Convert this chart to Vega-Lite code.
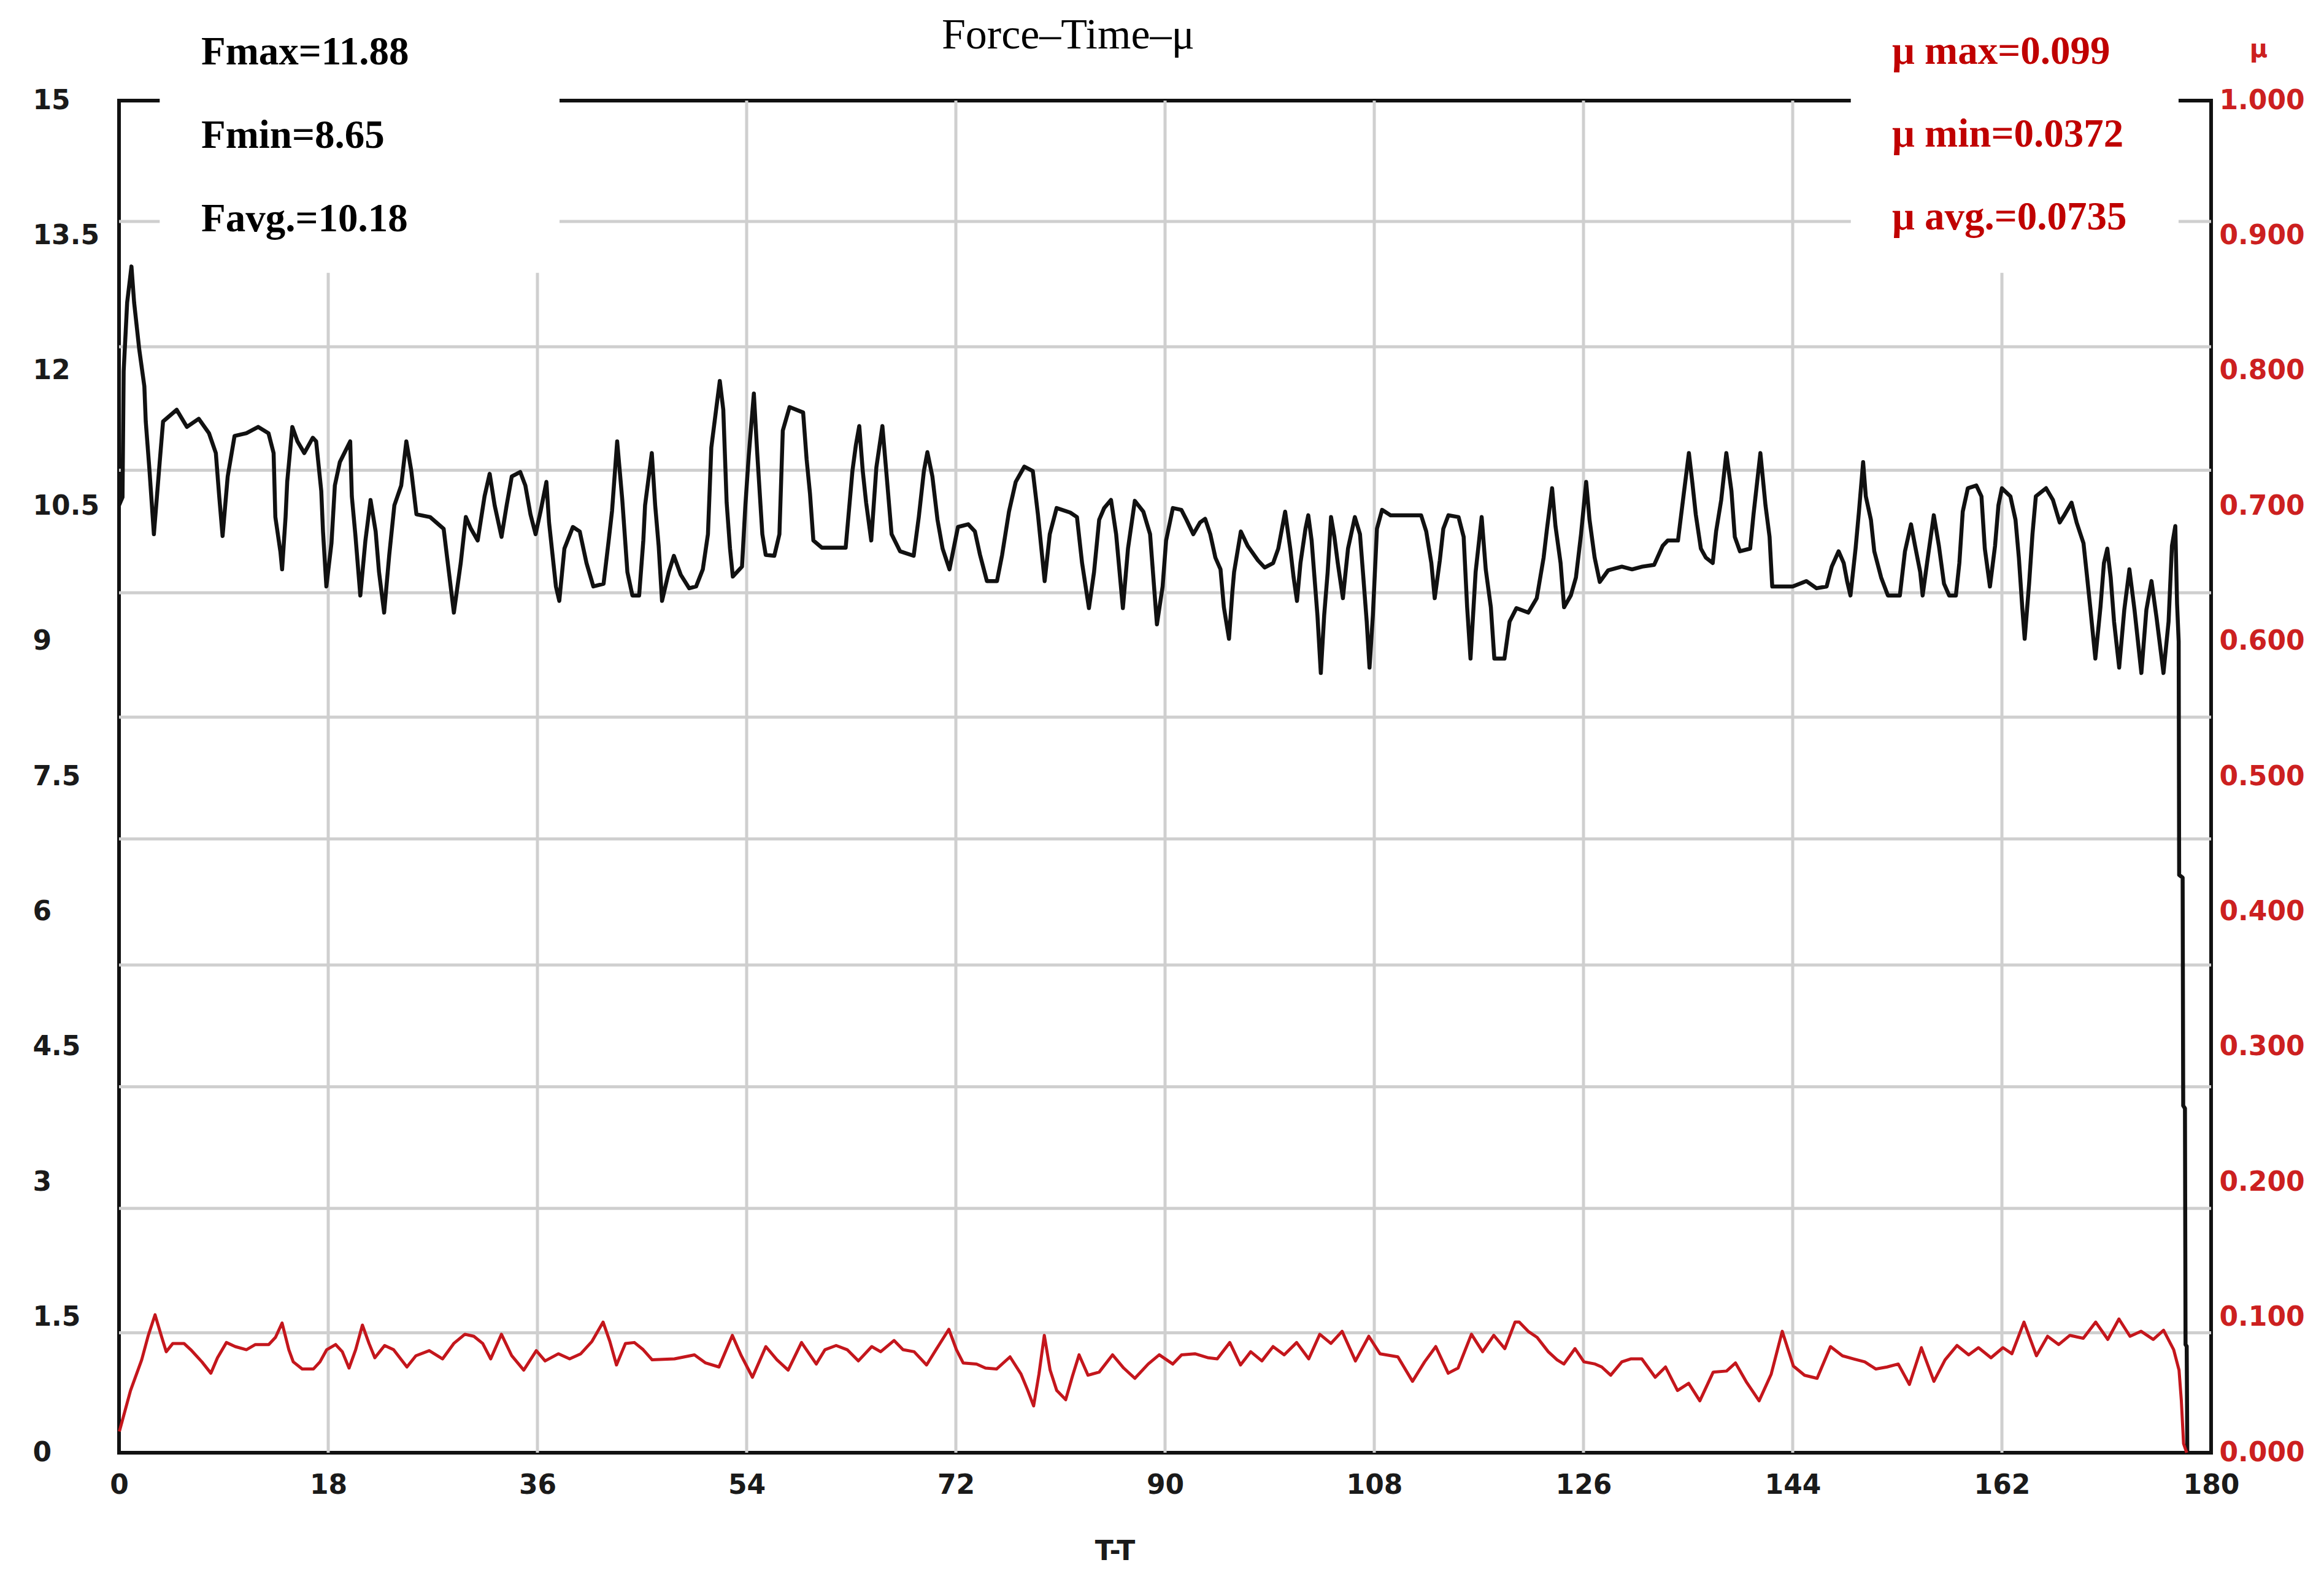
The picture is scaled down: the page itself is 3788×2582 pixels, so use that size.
{
  "$schema": "https://vega.github.io/schema/vega-lite/v6.json",
  "width": 3410,
  "height": 2204,
  "autosize": {"type": "none"},
  "padding": {"left": 194, "top": 164, "right": 184, "bottom": 214},
  "background": "white",
  "config": {
    "view": {"stroke": "#111111", "strokeWidth": 6},
    "axis": {"domain": false, "ticks": false, "grid": false, "labelFont": "DejaVu Sans", "labelFontWeight": "bold", "labelFontSize": 44, "labelColor": "#1a1a1a", "labelOverlap": false}
  },
  "datasets": {
    "hgrid": [{"g": 1.33}, {"g": 2.71}, {"g": 4.06}, {"g": 5.41}, {"g": 6.81}, {"g": 8.16}, {"g": 9.54}, {"g": 10.9}, {"g": 12.27}, {"g": 13.66}],
    "vgrid": [{"v": 18}, {"v": 36}, {"v": 54}, {"v": 72}, {"v": 90}, {"v": 108}, {"v": 126}, {"v": 144}, {"v": 162}],
    "force": [
      {"t":0.0,"F":10.51},{"t":0.3,"F":10.6},{"t":0.4,"F":12.0},{"t":0.7,"F":12.76},{"t":1.07,"F":13.16},{"t":1.3,"F":12.76},{"t":1.74,"F":12.24},{"t":2.18,"F":11.83},{"t":2.3,"F":11.44},{"t":2.62,"F":10.9},{"t":3.0,"F":10.19},{"t":3.5,"F":10.99},{"t":3.79,"F":11.44},{"t":4.96,"F":11.57},{"t":5.84,"F":11.38},{"t":6.86,"F":11.47},{"t":7.74,"F":11.31},{"t":8.33,"F":11.09},{"t":8.62,"F":10.61},{"t":8.91,"F":10.17},{"t":9.35,"F":10.83},{"t":9.94,"F":11.28},{"t":10.96,"F":11.31},{"t":11.98,"F":11.38},{"t":12.86,"F":11.31},{"t":13.3,"F":11.09},{"t":13.45,"F":10.38},{"t":13.89,"F":9.99},{"t":14.03,"F":9.8},{"t":14.33,"F":10.38},{"t":14.47,"F":10.77},{"t":14.91,"F":11.38},{"t":15.35,"F":11.22},{"t":15.94,"F":11.09},{"t":16.67,"F":11.26},{"t":16.96,"F":11.22},{"t":17.4,"F":10.67},{"t":17.55,"F":10.22},{"t":17.84,"F":9.61},{"t":18.28,"F":10.09},{"t":18.57,"F":10.73},{"t":19.0,"F":10.99},{"t":19.89,"F":11.22},{"t":20.03,"F":10.61},{"t":20.33,"F":10.19},{"t":20.76,"F":9.51},{"t":21.2,"F":10.12},{"t":21.64,"F":10.57},{"t":22.08,"F":10.22},{"t":22.37,"F":9.77},{"t":22.81,"F":9.32},{"t":23.25,"F":9.96},{"t":23.69,"F":10.51},{"t":24.28,"F":10.73},{"t":24.72,"F":11.22},{"t":25.15,"F":10.89},{"t":25.59,"F":10.41},{"t":26.76,"F":10.38},{"t":27.93,"F":10.25},{"t":28.23,"F":9.93},{"t":28.81,"F":9.32},{"t":29.4,"F":9.87},{"t":29.84,"F":10.38},{"t":30.28,"F":10.25},{"t":30.86,"F":10.12},{"t":31.45,"F":10.61},{"t":31.89,"F":10.86},{"t":32.32,"F":10.51},{"t":32.91,"F":10.16},{"t":33.35,"F":10.51},{"t":33.79,"F":10.83},{"t":34.52,"F":10.88},{"t":34.96,"F":10.73},{"t":35.4,"F":10.41},{"t":35.84,"F":10.19},{"t":36.28,"F":10.45},{"t":36.77,"F":10.77},{"t":37.0,"F":10.32},{"t":37.59,"F":9.61},{"t":37.88,"F":9.45},{"t":38.32,"F":10.03},{"t":39.05,"F":10.27},{"t":39.64,"F":10.22},{"t":40.22,"F":9.87},{"t":40.81,"F":9.61},{"t":41.69,"F":9.64},{"t":42.13,"F":10.12},{"t":42.42,"F":10.45},{"t":42.86,"F":11.22},{"t":43.3,"F":10.57},{"t":43.74,"F":9.77},{"t":44.17,"F":9.51},{"t":44.75,"F":9.51},
      {"t":45.11,"F":10.12},{"t":45.26,"F":10.51},{"t":45.84,"F":11.09},{"t":46.13,"F":10.51},{"t":46.43,"F":10.06},{"t":46.72,"F":9.45},{"t":47.3,"F":9.77},{"t":47.74,"F":9.95},{"t":48.33,"F":9.74},{"t":49.06,"F":9.59},{"t":49.65,"F":9.61},{"t":50.23,"F":9.8},{"t":50.67,"F":10.19},{"t":50.96,"F":11.15},{"t":51.4,"F":11.6},{"t":51.69,"F":11.89},{"t":51.99,"F":11.57},{"t":52.28,"F":10.54},{"t":52.57,"F":10.03},{"t":52.81,"F":9.72},{"t":53.6,"F":9.83},{"t":53.89,"F":10.51},{"t":54.18,"F":11.06},{"t":54.62,"F":11.75},{"t":54.91,"F":11.09},{"t":55.35,"F":10.19},{"t":55.64,"F":9.96},{"t":56.38,"F":9.95},{"t":56.82,"F":10.19},{"t":57.11,"F":11.34},{"t":57.69,"F":11.6},{"t":58.86,"F":11.54},{"t":59.16,"F":11.02},{"t":59.45,"F":10.64},{"t":59.74,"F":10.12},{"t":60.47,"F":10.04},{"t":62.52,"F":10.04},{"t":63.1,"F":10.89},{"t":63.4,"F":11.18},{"t":63.69,"F":11.39},{"t":63.99,"F":10.89},{"t":64.28,"F":10.54},{"t":64.72,"F":10.12},{"t":65.16,"F":10.93},{"t":65.68,"F":11.39},{"t":66.03,"F":10.86},{"t":66.47,"F":10.19},{"t":67.2,"F":10.0},{"t":68.37,"F":9.95},{"t":68.81,"F":10.38},{"t":69.25,"F":10.89},{"t":69.55,"F":11.1},{"t":69.98,"F":10.83},{"t":70.42,"F":10.35},{"t":70.86,"F":10.03},{"t":71.45,"F":9.8},{"t":72.18,"F":10.27},{"t":73.06,"F":10.3},{"t":73.64,"F":10.22},{"t":74.08,"F":9.96},{"t":74.67,"F":9.67},{"t":75.54,"F":9.67},{"t":75.98,"F":9.96},{"t":76.57,"F":10.44},{"t":77.15,"F":10.77},{"t":77.89,"F":10.94},{"t":78.62,"F":10.89},{"t":79.06,"F":10.41},{"t":79.64,"F":9.67},{"t":80.08,"F":10.19},{"t":80.67,"F":10.48},{"t":81.84,"F":10.43},{"t":82.42,"F":10.38},{"t":82.86,"F":9.87},{"t":83.45,"F":9.37},{"t":83.89,"F":9.77},{"t":84.33,"F":10.35},{"t":84.76,"F":10.48},{"t":85.35,"F":10.57},{"t":85.79,"F":10.19},{"t":86.37,"F":9.37},{"t":86.81,"F":10.03},{"t":87.4,"F":10.56},{"t":88.13,"F":10.44},{"t":88.71,"F":10.19},{"t":89.3,"F":9.19},{"t":89.79,"F":9.61},{"t":90.09,"F":10.12},
      {"t":90.67,"F":10.48},{"t":91.4,"F":10.46},{"t":91.84,"F":10.35},{"t":92.43,"F":10.19},{"t":93.01,"F":10.32},{"t":93.45,"F":10.36},{"t":93.89,"F":10.19},{"t":94.33,"F":9.93},{"t":94.77,"F":9.8},{"t":95.06,"F":9.38},{"t":95.5,"F":9.03},{"t":95.79,"F":9.55},{"t":95.94,"F":9.77},{"t":96.52,"F":10.22},{"t":97.11,"F":10.06},{"t":97.99,"F":9.9},{"t":98.57,"F":9.82},{"t":99.3,"F":9.87},{"t":99.74,"F":10.03},{"t":100.33,"F":10.44},{"t":100.77,"F":10.03},{"t":101.06,"F":9.71},{"t":101.35,"F":9.45},{"t":101.65,"F":9.87},{"t":102.08,"F":10.25},{"t":102.32,"F":10.4},{"t":102.61,"F":10.12},{"t":102.82,"F":9.77},{"t":103.11,"F":9.29},{"t":103.4,"F":8.65},{"t":103.69,"F":9.29},{"t":103.99,"F":9.77},{"t":104.28,"F":10.38},{"t":104.57,"F":10.16},{"t":104.86,"F":9.87},{"t":105.3,"F":9.48},{"t":105.74,"F":10.03},{"t":106.33,"F":10.38},{"t":106.77,"F":10.19},{"t":107.06,"F":9.71},{"t":107.35,"F":9.22},{"t":107.59,"F":8.71},{"t":107.88,"F":9.29},{"t":108.23,"F":10.25},{"t":108.67,"F":10.46},{"t":109.4,"F":10.4},{"t":112.03,"F":10.4},{"t":112.47,"F":10.22},{"t":112.91,"F":9.87},{"t":113.2,"F":9.48},{"t":113.64,"F":9.9},{"t":113.94,"F":10.25},{"t":114.38,"F":10.4},{"t":115.25,"F":10.38},{"t":115.69,"F":10.16},{"t":115.99,"F":9.38},{"t":116.28,"F":8.81},{"t":116.72,"F":9.77},{"t":117.24,"F":10.38},{"t":117.59,"F":9.8},{"t":118.03,"F":9.38},{"t":118.33,"F":8.81},{"t":119.2,"F":8.81},{"t":119.64,"F":9.22},{"t":120.23,"F":9.37},{"t":121.25,"F":9.32},{"t":121.98,"F":9.48},{"t":122.57,"F":9.93},{"t":122.86,"F":10.25},{"t":123.3,"F":10.7},{"t":123.59,"F":10.28},{"t":124.03,"F":9.87},{"t":124.33,"F":9.38},{"t":124.91,"F":9.51},{"t":125.35,"F":9.71},{"t":125.79,"F":10.19},{"t":126.23,"F":10.77},{"t":126.52,"F":10.35},{"t":126.96,"F":9.93},{"t":127.4,"F":9.66},{"t":128.13,"F":9.79},{"t":129.3,"F":9.83},{"t":130.18,"F":9.8},{"t":131.06,"F":9.83},{"t":132.08,"F":9.85},{"t":132.81,"F":10.06},{"t":133.25,"F":10.12},{"t":134.13,"F":10.12},
      {"t":134.63,"F":10.64},{"t":135.07,"F":11.09},{"t":135.36,"F":10.77},{"t":135.66,"F":10.41},{"t":136.1,"F":10.03},{"t":136.53,"F":9.93},{"t":137.12,"F":9.87},{"t":137.41,"F":10.22},{"t":137.85,"F":10.57},{"t":138.29,"F":11.09},{"t":138.73,"F":10.67},{"t":139.02,"F":10.16},{"t":139.46,"F":10.0},{"t":140.34,"F":10.03},{"t":140.63,"F":10.41},{"t":141.22,"F":11.09},{"t":141.66,"F":10.51},{"t":142.01,"F":10.16},{"t":142.24,"F":9.61},{"t":144.0,"F":9.61},{"t":145.17,"F":9.67},{"t":146.05,"F":9.59},{"t":146.92,"F":9.61},{"t":147.36,"F":9.83},{"t":147.95,"F":10.0},{"t":148.39,"F":9.87},{"t":148.68,"F":9.67},{"t":148.97,"F":9.51},{"t":149.41,"F":10.03},{"t":149.7,"F":10.44},{"t":150.06,"F":10.99},{"t":150.29,"F":10.61},{"t":150.73,"F":10.35},{"t":151.02,"F":10.0},{"t":151.61,"F":9.71},{"t":152.19,"F":9.51},{"t":153.22,"F":9.51},{"t":153.66,"F":10.0},{"t":154.18,"F":10.3},{"t":154.53,"F":10.06},{"t":154.97,"F":9.77},{"t":155.18,"F":9.51},{"t":155.56,"F":9.87},{"t":156.14,"F":10.4},{"t":156.58,"F":10.06},{"t":157.02,"F":9.64},{"t":157.46,"F":9.51},{"t":158.04,"F":9.51},{"t":158.34,"F":9.87},{"t":158.63,"F":10.44},{"t":159.07,"F":10.7},{"t":159.8,"F":10.73},{"t":160.24,"F":10.61},{"t":160.53,"F":10.03},{"t":160.97,"F":9.61},{"t":161.41,"F":10.06},{"t":161.7,"F":10.51},{"t":162.0,"F":10.7},{"t":162.73,"F":10.61},{"t":163.17,"F":10.35},{"t":163.46,"F":9.93},{"t":163.75,"F":9.38},{"t":163.96,"F":9.03},{"t":164.34,"F":9.64},{"t":164.63,"F":10.19},{"t":164.92,"F":10.61},{"t":165.8,"F":10.7},{"t":166.39,"F":10.57},{"t":166.97,"F":10.32},{"t":167.41,"F":10.41},{"t":167.99,"F":10.54},{"t":168.43,"F":10.32},{"t":169.02,"F":10.09},{"t":169.31,"F":9.74},{"t":169.6,"F":9.38},{"t":170.04,"F":8.81},{"t":170.48,"F":9.38},{"t":170.78,"F":9.87},{"t":171.07,"F":10.03},{"t":171.36,"F":9.71},{"t":171.65,"F":9.22},{"t":172.09,"F":8.71},{"t":172.53,"F":9.35},{"t":172.97,"F":9.8},{"t":173.41,"F":9.35},{"t":174.0,"F":8.65},{"t":174.43,"F":9.35},{"t":174.87,"F":9.67},{"t":175.31,"F":9.26},{"t":175.9,"F":8.65},{"t":176.34,"F":9.22},{"t":176.63,"F":10.06},{"t":176.92,"F":10.28},{"t":177.07,"F":9.42},{"t":177.21,"F":9.0},{"t":177.25,"F":6.41},{"t":177.55,"F":6.38},{"t":177.6,"F":3.85},{"t":177.75,"F":3.82},{"t":177.8,"F":1.2},{"t":177.9,"F":1.18},{"t":177.95,"F":0.0}
    ],
    "mu": [
      {"t":0.03,"mu":0.0157},{"t":0.99,"mu":0.046},{"t":1.95,"mu":0.0687},{"t":2.52,"mu":0.0868},{"t":3.1,"mu":0.102},{"t":3.68,"mu":0.0853},{"t":4.06,"mu":0.0747},{"t":4.63,"mu":0.0808},{"t":5.59,"mu":0.0808},{"t":6.17,"mu":0.0762},{"t":7.13,"mu":0.0672},{"t":7.9,"mu":0.0588},{"t":8.47,"mu":0.0702},{"t":9.24,"mu":0.0815},{"t":10.0,"mu":0.0785},{"t":10.96,"mu":0.0762},{"t":11.73,"mu":0.08},{"t":12.88,"mu":0.08},{"t":13.46,"mu":0.0853},{"t":14.03,"mu":0.0959},{"t":14.61,"mu":0.0762},{"t":14.99,"mu":0.0672},{"t":15.76,"mu":0.0619},{"t":16.72,"mu":0.0619},{"t":17.29,"mu":0.0672},{"t":17.87,"mu":0.0762},{"t":18.64,"mu":0.08},{"t":19.21,"mu":0.0747},{"t":19.79,"mu":0.0626},{"t":20.36,"mu":0.0762},{"t":20.94,"mu":0.0944},{"t":21.51,"mu":0.0808},{"t":22.01,"mu":0.0702},{"t":22.85,"mu":0.0793},{"t":23.62,"mu":0.0762},{"t":24.77,"mu":0.0634},{"t":25.54,"mu":0.0717},{"t":26.69,"mu":0.0755},{"t":27.84,"mu":0.0694},{"t":28.8,"mu":0.0808},{"t":29.76,"mu":0.0876},{"t":30.53,"mu":0.0861},{"t":31.29,"mu":0.0808},{"t":31.98,"mu":0.0694},{"t":32.9,"mu":0.0876},{"t":33.79,"mu":0.0717},{"t":34.82,"mu":0.0611},{"t":35.9,"mu":0.0755},{"t":36.66,"mu":0.0679},{"t":37.81,"mu":0.0732},{"t":38.77,"mu":0.0694},{"t":39.73,"mu":0.0732},{"t":40.69,"mu":0.0823},{"t":41.65,"mu":0.0966},{"t":42.23,"mu":0.0823},{"t":42.8,"mu":0.0649},{"t":43.57,"mu":0.0808},{"t":44.34,"mu":0.0815},{"t":45.1,"mu":0.0762},{"t":45.87,"mu":0.0687},{"t":47.79,"mu":0.0694},{"t":49.51,"mu":0.0724},{"t":50.47,"mu":0.0664},{"t":51.62,"mu":0.0634},{"t":52.77,"mu":0.0868},{"t":53.54,"mu":0.0717},{"t":54.5,"mu":0.0558},{"t":55.65,"mu":0.0785},{"t":56.61,"mu":0.0687},{"t":57.57,"mu":0.0611},{"t":58.72,"mu":0.0815},{"t":59.99,"mu":0.0656},
      {"t":60.74,"mu":0.0762},{"t":61.7,"mu":0.0793},{"t":62.65,"mu":0.0762},{"t":63.61,"mu":0.0679},{"t":64.76,"mu":0.0785},{"t":65.53,"mu":0.0747},{"t":66.68,"mu":0.083},{"t":67.45,"mu":0.0762},{"t":68.41,"mu":0.0747},{"t":69.48,"mu":0.0649},{"t":70.52,"mu":0.0793},{"t":71.4,"mu":0.0913},{"t":72.05,"mu":0.0762},{"t":72.63,"mu":0.0664},{"t":73.78,"mu":0.0656},{"t":74.55,"mu":0.0626},{"t":75.5,"mu":0.0619},{"t":76.66,"mu":0.0709},{"t":77.61,"mu":0.0581},{"t":78.19,"mu":0.046},{"t":78.69,"mu":0.0346},{"t":79.15,"mu":0.0581},{"t":79.61,"mu":0.0868},{"t":80.11,"mu":0.0611},{"t":80.68,"mu":0.046},{"t":81.45,"mu":0.0392},{"t":82.03,"mu":0.0566},{"t":82.6,"mu":0.0724},{"t":83.37,"mu":0.0573},{"t":84.33,"mu":0.0596},{"t":85.48,"mu":0.0724},{"t":86.44,"mu":0.0626},{"t":87.4,"mu":0.055},{"t":88.55,"mu":0.0656},{"t":89.5,"mu":0.0724},{"t":90.66,"mu":0.0656},{"t":91.42,"mu":0.0724},{"t":92.57,"mu":0.0732},{"t":93.73,"mu":0.0702},{"t":94.49,"mu":0.0694},{"t":95.57,"mu":0.0815},{"t":96.49,"mu":0.0649},{"t":97.37,"mu":0.0747},{"t":98.33,"mu":0.0679},{"t":99.29,"mu":0.0785},{"t":100.25,"mu":0.0724},{"t":101.32,"mu":0.0815},{"t":102.36,"mu":0.0694},{"t":103.31,"mu":0.0876},{"t":104.27,"mu":0.0808},{"t":105.23,"mu":0.0898},{"t":106.38,"mu":0.0679},{"t":107.53,"mu":0.0861},{"t":108.49,"mu":0.0732},{"t":110.03,"mu":0.0709},{"t":111.29,"mu":0.0528},{"t":112.33,"mu":0.0672},{"t":113.29,"mu":0.0785},{"t":114.36,"mu":0.0588},{"t":115.21,"mu":0.0626},{"t":116.36,"mu":0.0876},{"t":117.32,"mu":0.0747},{"t":118.28,"mu":0.0868},{"t":119.23,"mu":0.077},{"t":120.11,"mu":0.0966},
      {"t":120.47,"mu":0.0966},{"t":121.24,"mu":0.0898},{"t":122.01,"mu":0.0853},{"t":122.97,"mu":0.0747},{"t":123.73,"mu":0.0687},{"t":124.31,"mu":0.0656},{"t":125.27,"mu":0.077},{"t":126.04,"mu":0.0672},{"t":127.0,"mu":0.0656},{"t":127.57,"mu":0.0634},{"t":128.34,"mu":0.0573},{"t":129.3,"mu":0.0672},{"t":130.06,"mu":0.0694},{"t":131.02,"mu":0.0694},{"t":132.17,"mu":0.0558},{"t":133.06,"mu":0.0634},{"t":134.09,"mu":0.046},{"t":135.05,"mu":0.0513},{"t":136.01,"mu":0.0384},{"t":137.16,"mu":0.0596},{"t":138.31,"mu":0.0604},{"t":139.08,"mu":0.0664},{"t":140.04,"mu":0.052},{"t":141.11,"mu":0.0384},{"t":142.15,"mu":0.0581},{"t":143.1,"mu":0.0898},{"t":144.06,"mu":0.0641},{"t":145.02,"mu":0.0573},{"t":146.1,"mu":0.055},{"t":147.25,"mu":0.0785},{"t":148.28,"mu":0.0717},{"t":149.24,"mu":0.0694},{"t":150.2,"mu":0.0672},{"t":151.16,"mu":0.0619},{"t":152.12,"mu":0.0634},{"t":153.08,"mu":0.0656},{"t":154.04,"mu":0.0505},{"t":155.07,"mu":0.0777},{"t":156.15,"mu":0.0528},{"t":157.11,"mu":0.0687},{"t":158.14,"mu":0.0793},{"t":159.14,"mu":0.0724},{"t":159.98,"mu":0.0777},{"t":161.06,"mu":0.0702},{"t":162.09,"mu":0.0777},{"t":162.86,"mu":0.0732},{"t":163.9,"mu":0.0966},{"t":164.97,"mu":0.0717},{"t":165.93,"mu":0.0861},{"t":166.89,"mu":0.08},{"t":167.85,"mu":0.0868},{"t":169.0,"mu":0.0846},{"t":170.07,"mu":0.0966},{"t":171.11,"mu":0.0838},{"t":172.07,"mu":0.0989},{"t":173.02,"mu":0.0861},{"t":173.98,"mu":0.0898},{"t":175.02,"mu":0.0838},{"t":175.91,"mu":0.0906},{"t":176.78,"mu":0.0762},{"t":177.24,"mu":0.0611},{"t":177.44,"mu":0.0384},{"t":177.63,"mu":0.0067},{"t":177.9,"mu":0.0}
    ]
  },
  "layer": [
    {
      "layer": [
        {
          "data": {"name": "hgrid"},
          "mark": {"type": "rule", "color": "#cfcfcf", "strokeWidth": 5},
          "encoding": {
            "y": {"field": "g", "type": "quantitative"},
            "x": {"datum": 0, "type": "quantitative"},
            "x2": {"datum": 180}
          }
        },
        {
          "data": {"name": "vgrid"},
          "mark": {"type": "rule", "color": "#cfcfcf", "strokeWidth": 5},
          "encoding": {
            "x": {"field": "v", "type": "quantitative"},
            "y": {"datum": 0, "type": "quantitative"},
            "y2": {"datum": 15}
          }
        },
        {
          "data": {"values": [{}]},
          "mark": {"type": "rect", "fill": "white"},
          "encoding": {
            "x": {"datum": 3.5, "type": "quantitative"},
            "x2": {"datum": 37.9},
            "y": {"datum": 13.09, "type": "quantitative"},
            "y2": {"datum": 16.12}
          }
        },
        {
          "data": {"values": [{}]},
          "mark": {"type": "rect", "fill": "white"},
          "encoding": {
            "x": {"datum": 149.0, "type": "quantitative"},
            "x2": {"datum": 177.2},
            "y": {"datum": 13.09, "type": "quantitative"},
            "y2": {"datum": 16.12}
          }
        },
        {
          "data": {"name": "force"},
          "mark": {"type": "line", "color": "#111111", "strokeWidth": 6.5, "strokeJoin": "round"},
          "encoding": {
            "x": {
              "field": "t", "type": "quantitative",
              "scale": {"domain": [0, 180], "nice": false, "zero": false},
              "axis": {
                "orient": "bottom", "values": [0, 18, 36, 54, 72, 90, 108, 126, 144, 162, 180], "format": "d",
                "labelPadding": 31, "labelFlush": false, "labelBaseline": "top",
                "title": "T-T", "titleFont": "DejaVu Sans", "titleFontWeight": "bold", "titleFontSize": 44, "titleColor": "#1a1a1a",
                "titleX": 1623, "titleY": 174, "titleAlign": "center", "titleBaseline": "alphabetic", "titleAnchor": null
              }
            },
            "y": {
              "field": "F", "type": "quantitative",
              "scale": {"domain": [0, 15], "nice": false},
              "axis": {
                "orient": "left", "values": [0, 1.5, 3, 4.5, 6, 7.5, 9, 10.5, 12, 13.5, 15], "format": "~g",
                "labelAlign": "left", "labelPadding": 141, "labelBaseline": "middle", "title": null
              }
            }
          }
        },
        {
          "data": {"values": [{}]},
          "mark": {"type": "text", "text": "Force–Time–μ", "font": "Liberation Serif", "fontSize": 70, "fontWeight": "normal", "fill": "#000000", "align": "center", "baseline": "alphabetic"},
          "encoding": {
            "x": {"datum": 81.66, "type": "quantitative"},
            "y": {"datum": 15.58, "type": "quantitative"}
          }
        },
        {
          "data": {"values": [{}]},
          "mark": {"type": "text", "text": ["Fmax=11.88", "Fmin=8.65", "Favg.=10.18"], "lineHeight": 136, "font": "Liberation Serif", "fontSize": 65, "fontWeight": "bold", "fill": "#000000", "align": "left", "baseline": "alphabetic"},
          "encoding": {
            "x": {"datum": 7.07, "type": "quantitative"},
            "y": {"datum": 15.4, "type": "quantitative"}
          }
        },
        {
          "data": {"values": [{}]},
          "mark": {"type": "text", "text": ["μ max=0.099", "μ min=0.0372", "μ avg.=0.0735"], "lineHeight": 135, "font": "Liberation Serif", "fontSize": 65, "fontWeight": "bold", "fill": "#c00000", "align": "left", "baseline": "alphabetic"},
          "encoding": {
            "x": {"datum": 152.55, "type": "quantitative"},
            "y": {"datum": 15.41, "type": "quantitative"}
          }
        }
      ]
    },
    {
      "data": {"name": "mu"},
      "mark": {"type": "line", "color": "#c4161c", "strokeWidth": 5, "strokeJoin": "round"},
      "encoding": {
        "x": {"field": "t", "type": "quantitative"},
        "y": {
          "field": "mu", "type": "quantitative",
          "scale": {"domain": [0, 1], "nice": false},
          "axis": {
            "orient": "right", "values": [0, 0.1, 0.2, 0.3, 0.4, 0.5, 0.6, 0.7, 0.8, 0.9, 1], "format": ".3f",
            "labelAlign": "left", "labelPadding": 13, "labelColor": "#cc2020", "labelBaseline": "middle",
            "title": "μ", "titleFont": "DejaVu Sans", "titleFontWeight": "bold", "titleFontSize": 40, "titleColor": "#cc2020",
            "titleAngle": 0, "titleX": 77, "titleY": -72, "titleAlign": "center", "titleBaseline": "alphabetic", "titleAnchor": null
          }
        }
      }
    }
  ],
  "resolve": {"scale": {"y": "independent"}, "axis": {"y": "independent"}}
}
